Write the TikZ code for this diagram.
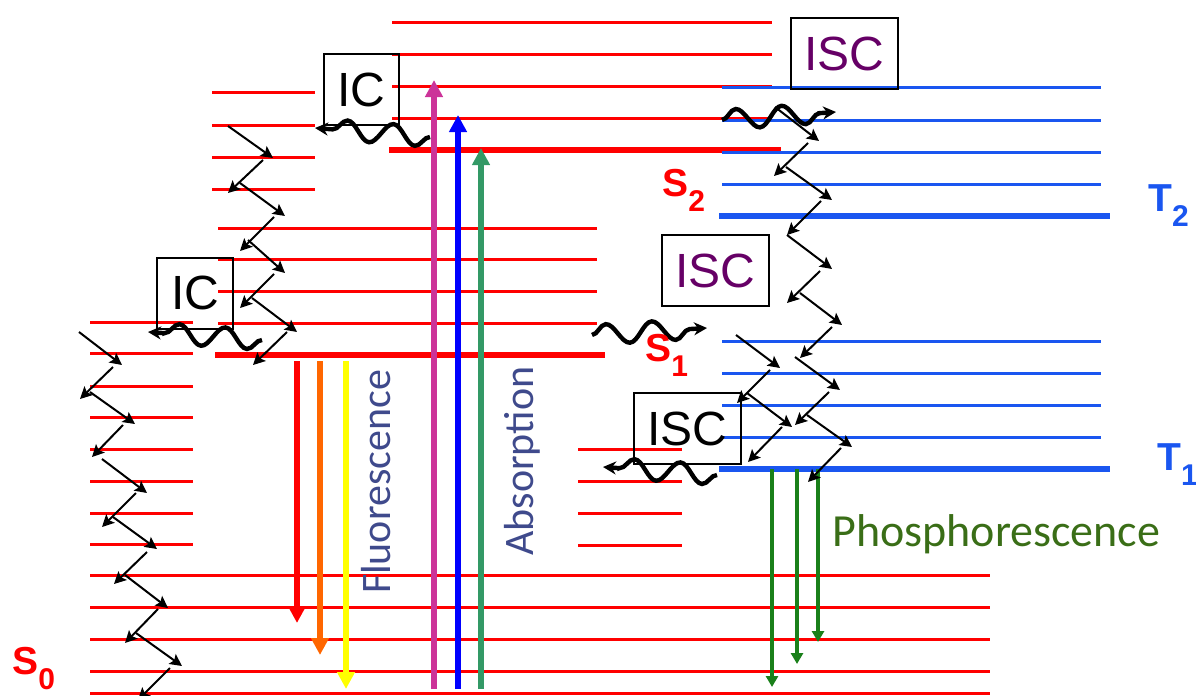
\documentclass[tikz,border=0pt]{standalone}
\usepackage{fontspec}
\setmainfont{Liberation Sans}
\newfontfamily\carlito{Carlito}
\usetikzlibrary{arrows.meta,decorations.pathmorphing}
\definecolor{jbRed}{HTML}{FF0000}
\definecolor{jbBlue}{HTML}{1A56F0}
\definecolor{jbPurple}{HTML}{660066}
\definecolor{jbSlate}{HTML}{3F4A8C}
\definecolor{jbOlive}{HTML}{3A6E17}
\definecolor{jbMagenta}{HTML}{CC3399}
\definecolor{jbAbsBlue}{HTML}{0000FF}
\definecolor{jbTeal}{HTML}{339966}
\definecolor{jbOrange}{HTML}{FF6600}
\definecolor{jbYellow}{HTML}{FFFF00}
\definecolor{jbGreen}{HTML}{1A801A}
\newcommand{\statelabel}[2]{\bfseries #1\raisebox{-7.5bp}{\fontsize{15bp}{15bp}\selectfont #2}}
\tikzset{
  jb level/.style={line width=1.5bp},
  jb ground/.style={line width=3bp},
  jb box/.style={draw=black, line width=1bp, inner sep=0pt,
    minimum height=35.5bp, font=\fontsize{24bp}{24bp}\selectfont},
  jb relax/.style={-{Stealth[length=6bp,width=6bp,inset=1.2bp]}, line width=1bp},
  jb wave/.style={-{Stealth[length=6.5bp,width=6.5bp]}, line width=2.2bp,
    decorate, decoration={snake, amplitude=5bp, segment length=23bp,
    post length=5bp}},
  jb photon/.style={-{Triangle[length=8.5bp,width=8.5bp]}, line width=3bp},
  jb phos/.style={-{Triangle[length=5.5bp,width=6bp]}, line width=2bp},
  jb state/.style={font=\fontsize{19.5bp}{19.5bp}\selectfont,
    inner sep=0pt, anchor=base west},
  jb word/.style={font=\carlito\fontsize{21bp}{21bp}\selectfont, inner sep=0pt}
}
\begin{document}
\begin{tikzpicture}[x=0.5bp,y=-0.5bp]
  \useasboundingbox (0,0) rectangle (1196,695);
  % S0 manifold
  \foreach \y in {575,607,639,671,693}
    \draw[jb level, jbRed] (90,\y) -- (990,\y);
  \foreach \y in {322,353,386,417,449,481,513,544}
    \draw[jb level, jbRed] (90,\y) -- (193,\y);
  \foreach \y in {449,481,513,545}
    \draw[jb level, jbRed] (578,\y) -- (682,\y);
  % S1 manifold
  \foreach \y in {93,125,157,189}
    \draw[jb level, jbRed] (212,\y) -- (315,\y);
  \foreach \y in {228,259,291,323}
    \draw[jb level, jbRed] (218,\y) -- (597,\y);
  \draw[jb ground, jbRed] (215,355) -- (605,355);
  % S2 manifold
  \foreach \y in {23,55,87,118}
    \draw[jb level, jbRed] (392,\y) -- (772,\y);
  \draw[jb ground, jbRed] (389,150) -- (781,150);
  % triplets
  \foreach \y in {88,120,152,184,341,373,405,437}
    \draw[jb level, jbBlue] (722,\y) -- (1101,\y);
  \foreach \y in {216,469}
    \draw[jb ground, jbBlue] (719,\y) -- (1110,\y);

  % radiative transitions
  \foreach \x/\y/\c in {297/623/jbRed, 320/655/jbOrange, 346/689/jbYellow}
    \draw[jb photon, \c] (\x,361) -- (\x,\y);
  \foreach \x/\y/\c in {434/80/jbMagenta, 458/115/jbAbsBlue, 481/148/jbTeal}
    \draw[jb photon, \c] (\x,689) -- (\x,\y);
  \foreach \x/\y in {772/687, 797/664, 818/642}
    \draw[jb phos, jbGreen] (\x,469) -- (\x,\y);

  % vibrational relaxation
  \foreach \x/\y/\u/\v in {79/332/122/365, 113/367/80/399, 90/392/135/424,
      123/425/92/457, 102/459/147/493, 136/493/102/527, 113/517/157/549,
      147/552/114/584, 125/575/168/608, 158/609/125/643, 136/633/182/666,
      170/668/138/700}
    \draw[jb relax] (\x,\y) -- (\u,\v);
  \foreach \x/\y/\u/\v in {228/126/273/158, 263/160/228/193, 240/183/285/216,
      274/217/240/251, 248/240/285/273, 274/274/240/308, 252/298/297/332,
      287/332/253/365}
    \draw[jb relax] (\x,\y) -- (\u,\v);
  \foreach \x/\y/\u/\v in {775/107/819/141, 808/143/774/176, 786/167/832/200,
      821/201/787/235, 787/235/832/269, 820/271/787/303, 800/293/842/325,
      832/327/800/358, 795/357/840/390, 829/392/795/425, 807/415/852/447,
      841/448/808/482}
    \draw[jb relax] (\x,\y) -- (\u,\v);
  \foreach \x/\y/\u/\v in {736/335/780/368, 770/370/737/403, 747/393/792/427,
      782/427/748/462}
    \draw[jb relax] (\x,\y) -- (\u,\v);

  % conversion boxes
  \node[jb box, minimum width=37.5bp] (icTop) at (361.5,89.5) {IC};
  \node[jb box, minimum width=38bp] (icLow) at (195,293) {IC};
  \node[jb box, minimum width=53.5bp, text=jbPurple] (iscTop) at (844.5,53.5) {ISC};
  \node[jb box, minimum width=53.5bp, text=jbPurple] (iscMid) at (715.5,270.5) {ISC};
  \node[jb box, minimum width=53.5bp] (iscLow) at (687.5,428.5) {ISC};

  % non-radiative crossings
  \draw[jb wave] (430,137) -- (315,128);
  \draw[jb wave] (262,340) -- (148,332);
  \draw[jb wave] (722,120) -- (836,112);
  \draw[jb wave] (592,335) -- (707,328);
  \draw[jb wave] (717,475) -- (603,467);

  % state labels
  \node[jb state, text=jbRed] (s0) at (12,674) {\statelabel{S}{0}};
  \node[jb state, text=jbRed] (s1) at (645,361) {\statelabel{S}{1}};
  \node[jb state, text=jbRed] (s2) at (662,196) {\statelabel{S}{2}};
  \node[jb state, text=jbBlue] (t1) at (1157,470) {\statelabel{T}{1}};
  \node[jb state, text=jbBlue] (t2) at (1148,211) {\statelabel{T}{2}};

  \node[jb word, rotate=90, anchor=base, text=jbSlate] (fluo) at (390,482) {Fluorescence};
  \node[jb word, rotate=90, anchor=base, text=jbSlate] (abso) at (533,461) {Absorption};
  \node[jb word, anchor=base west, text=jbOlive,
    font=\carlito\fontsize{23bp}{23bp}\selectfont] (phos) at (832,546) {Phosphorescence};
\end{tikzpicture}
\end{document}
